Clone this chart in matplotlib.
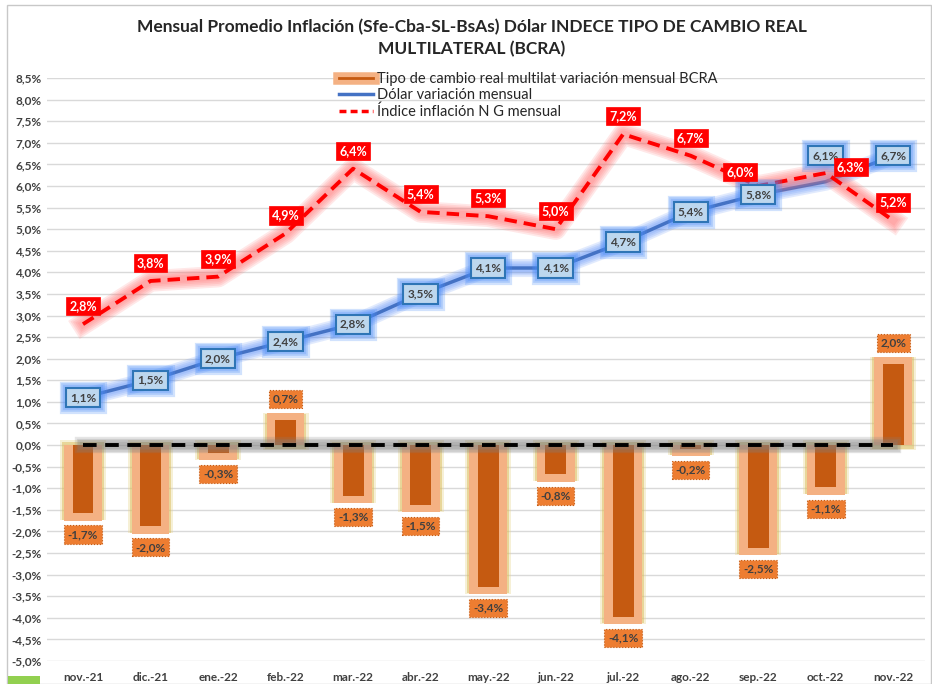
import matplotlib
matplotlib.use("Agg")
import matplotlib.pyplot as plt
import matplotlib.patheffects as pe
from matplotlib.lines import Line2D
from matplotlib.patches import Rectangle
import numpy as np

categories = ["nov.-21", "dic.-21", "ene.-22", "feb.-22", "mar.-22", "abr.-22", "may.-22",
              "jun.-22", "jul.-22", "ago.-22", "sep.-22", "oct.-22", "nov.-22"]
tcr = [-1.7, -2.0, -0.3, 0.7, -1.3, -1.5, -3.4, -0.8, -4.1, -0.2, -2.5, -1.1, 2.0]
dolar = [1.1, 1.5, 2.0, 2.4, 2.8, 3.5, 4.1, 4.1, 4.7, 5.4, 5.8, 6.1, 6.7]
inflacion = [2.8, 3.8, 3.9, 4.9, 6.4, 5.4, 5.3, 5.0, 7.2, 6.7, 6.0, 6.3, 5.2]
yticks = np.arange(-5.0, 8.51, 0.5)

title = "Mensual Promedio Inflación (Sfe-Cba-SL-BsAs) Dólar INDECE TIPO DE CAMBIO REAL\nMULTILATERAL (BCRA)"
legend_labels = ["Tipo de cambio real multilat variación mensual BCRA",
                 "Dólar variación mensual", "Índice inflación N G mensual"]

plt.rcParams['font.family'] = ['Lato', 'DejaVu Sans']


def glow(color, base, steps=4, step=3.0, alpha=0.18):
    return [pe.Stroke(linewidth=base + step * k, foreground=color, alpha=alpha)
            for k in range(steps, 0, -1)]


W, H = 932, 684
fig = plt.figure(figsize=(W / 100, H / 100), dpi=100)
fig.patch.set_facecolor("white")

# chart border
fig.add_artist(Rectangle((7 / W, 0), (W - 8) / W, 1 - 5 / H, transform=fig.transFigure,
                         fill=False, edgecolor="#C8C8C8", lw=1.0))
fig.add_artist(Rectangle((8 / W, 0), 32 / W, 8 / H, transform=fig.transFigure,
                         facecolor="#92D050", edgecolor="none"))

ax = fig.add_axes([47 / W, 1 - 661 / H, (925 - 47) / W, (661 - 78) / H])
x = np.arange(len(categories))
ax.set_xlim(-0.533, 12.47)
ax.set_ylim(-5.0, 8.5)

for s in ax.spines.values():
    s.set_visible(False)
ax.set_yticks(yticks)
ax.set_yticklabels([f"{v:.1f}%".replace(".", ",") for v in yticks])
ax.set_xticks(x)
ax.set_xticklabels(categories)
ax.tick_params(length=0, labelsize=8.5, labelcolor="#404040", pad=4)
for lab in ax.get_xticklabels() + ax.get_yticklabels():
    lab.set_fontweight("bold")
ax.tick_params(axis="x", pad=8)
ax.grid(axis="y", color="#D9D9D9", lw=1.0)
ax.set_axisbelow(True)

tcr_arr = np.array(tcr)
sgn = np.sign(tcr_arr)
# glow
ax.bar(x, tcr_arr + sgn * 0.16, width=0.68, bottom=-sgn * 0.12, color="#E8D48A", alpha=0.35, zorder=2)
ax.bar(x, tcr_arr + sgn * 0.11, width=0.62, bottom=-sgn * 0.08, color="#D8B850", alpha=0.45, zorder=2)
# light edge
ax.bar(x, tcr_arr + sgn * 0.05, width=0.56, color="#F4B183", zorder=3)
# dark fill
ax.bar(x, tcr_arr - sgn * 0.12, width=0.31, color="#C55A11", zorder=4)

# zero line (soft solid glow underneath, dashed on top)
ax.plot([x[0], x[-1]], [0, 0], color="#B0B0B0", lw=3, alpha=0.0, zorder=5,
        path_effects=glow("#808080", 3, steps=4, step=2.2, alpha=0.2))
ax.plot([x[0], x[-1]], [0, 0], color="black", lw=2.8, ls=(0, (3.5, 2.2)), zorder=5)

# dollar line
ax.plot(x, dolar, color="#4472C4", lw=2.5, zorder=6,
        path_effects=glow("#5B8FF9", 3, steps=4, step=2.5, alpha=0.18) + [pe.Normal()])
# inflation line
ax.plot(x, inflacion, color="#FF9A9A", lw=3, alpha=0.0, zorder=6,
        path_effects=glow("#FF7070", 3, steps=5, step=2.5, alpha=0.16))
ax.plot(x, inflacion, color="#FF0000", lw=2.8, ls=(0, (3.2, 1.8)), zorder=6)

# bar labels
for xi, v in zip(x, tcr):
    off = -16 if v < 0 else 16
    ax.annotate(f"{v:.1f}%".replace(".", ","), (xi, v), xytext=(0, off), textcoords="offset pixels",
                ha="center", va="center", fontsize=8.5, fontweight="bold", color="#404040", zorder=9,
                bbox=dict(boxstyle="square,pad=0.3", fc="#ED7D31", ec="#C55A11", lw=0.8, ls=":"))

# dollar labels
for i, (xi, v) in enumerate(zip(x, dolar)):
    dy = 26 if i == 11 else 0
    t = ax.annotate(f"{v:.1f}%".replace(".", ","), (xi, v), xytext=(0, dy), textcoords="offset pixels",
                    ha="center", va="center", fontsize=8.5, fontweight="bold", color="#404040", zorder=10,
                    bbox=dict(boxstyle="square,pad=0.35", fc="#BDD7EE", ec="#2E75B6", lw=1.5))
    t.get_bbox_patch().set_path_effects(glow("#4A8CF8", 2, steps=3, step=2.5, alpha=0.25) + [pe.Normal()])

# inflation labels
infl_offsets = {10: (-18, 14), 11: (25, 6)}
for i, (xi, v) in enumerate(zip(x, inflacion)):
    dx, dy = infl_offsets.get(i, (0, 18))
    ax.annotate(f"{v:.1f}%".replace(".", ","), (xi, v), xytext=(dx, dy), textcoords="offset pixels",
                ha="center", va="center", fontsize=9, fontweight="bold", color="white", zorder=11,
                bbox=dict(boxstyle="square,pad=0.25", fc="#FF0000", ec="#FF0000", lw=0.5))

# title
fig.text(472 / W, 1 - 38 / H, title, ha="center", va="center", fontsize=12.5, fontweight="bold",
         color="#262626", linespacing=1.45)

# legend
h1 = Line2D([], [], color="#C55A11", lw=2,
            path_effects=[pe.Stroke(linewidth=9, foreground="#F4B183"), pe.Normal()])
h2 = Line2D([], [], color="#4472C4", lw=2.5)
h3 = Line2D([], [], color="#FF0000", lw=2.5, ls=(0, (2, 1.2)))
fig.legend([h1, h2, h3], legend_labels, loc="upper left", bbox_to_anchor=(332 / W, 1 - 65 / H),
           frameon=False, fontsize=10.5, handlelength=2.3, handletextpad=0.3, labelspacing=0.15,
           borderpad=0, labelcolor="#262626")

fig.savefig("out.png", dpi=100)
